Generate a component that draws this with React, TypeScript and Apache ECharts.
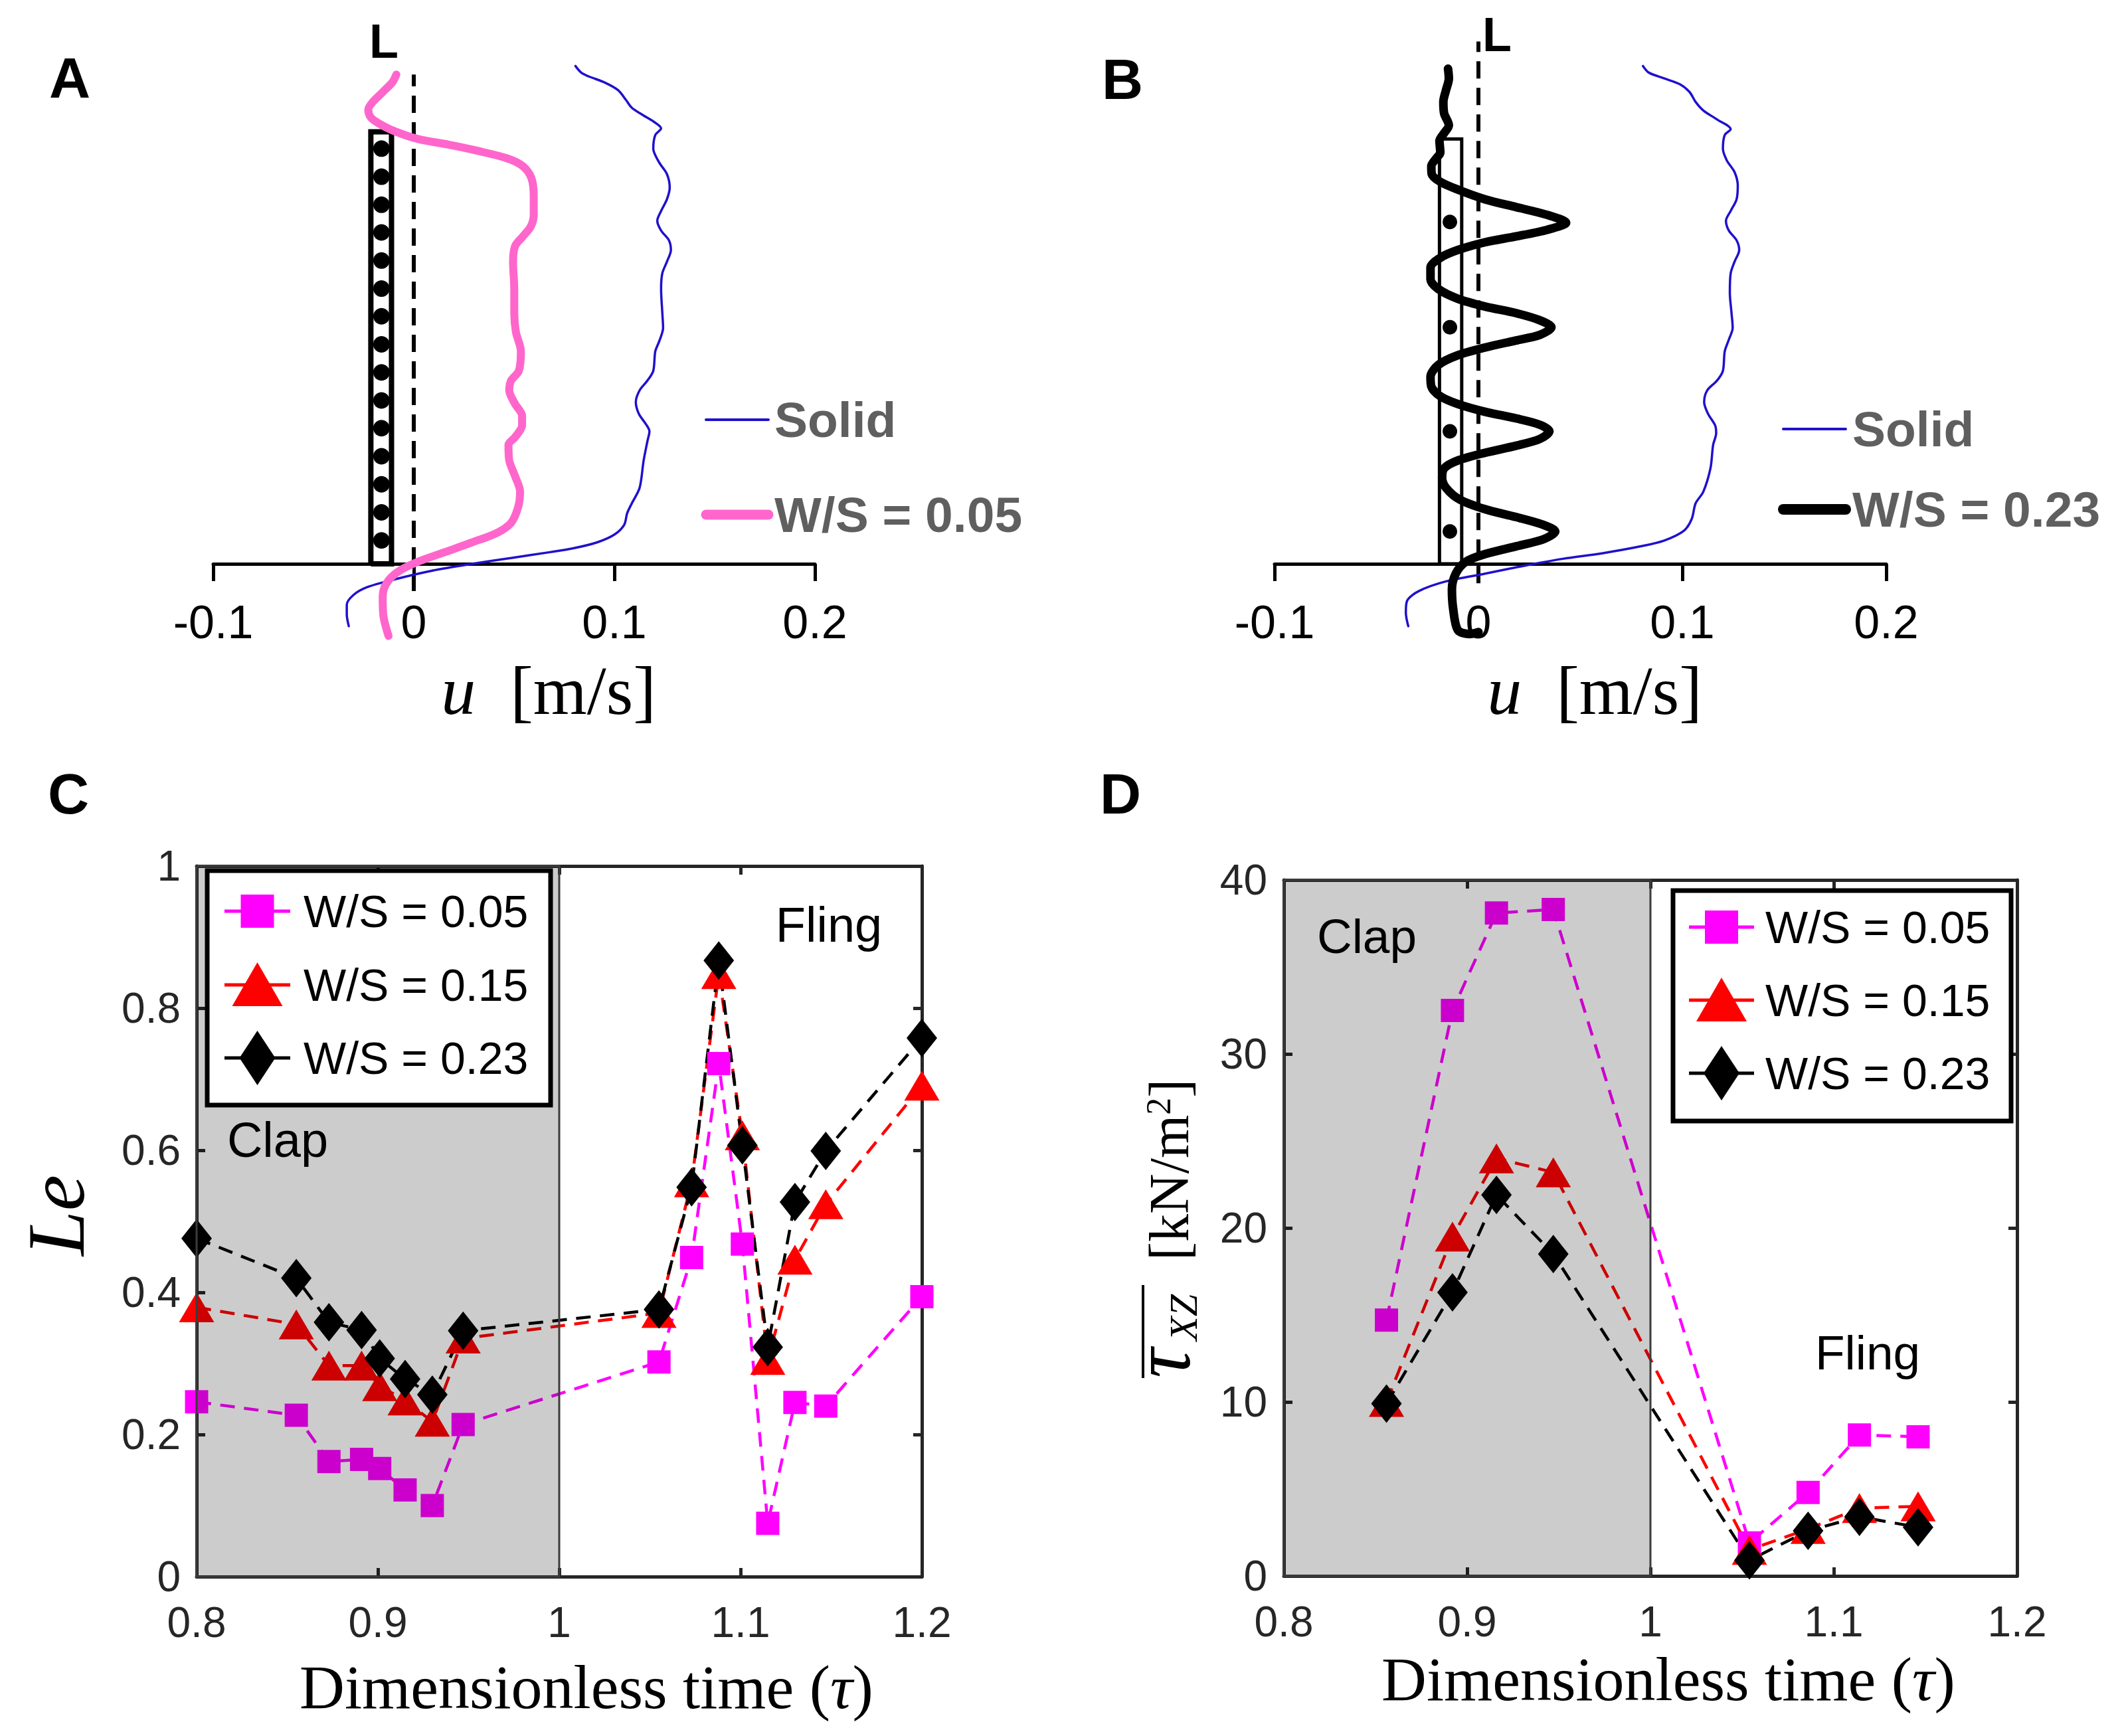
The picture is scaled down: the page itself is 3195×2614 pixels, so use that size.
import React, { useEffect, useRef } from 'react';
import * as echarts from 'echarts';

const W = 3195;
const H = 2614;
const SANS = '"Liberation Sans", Arial, Helvetica, sans-serif';
const SERIF = '"Liberation Serif", "Times New Roman", Times, serif';

// ---------- Panel A: velocity profiles, u [m/s] vs height (arbitrary units) ----------
const uTicks = [-0.1, 0, 0.1, 0.2];
const solidA: [number, number][] = [
  [0.0806, 12.77], [0.0835, 12.6], [0.0874, 12.5], [0.0951, 12.35], [0.1019, 12.15], [0.1058, 11.9],
  [0.1087, 11.7], [0.1146, 11.5], [0.1194, 11.35], [0.1233, 11.17], [0.1204, 11.0], [0.1194, 10.65],
  [0.1223, 10.3], [0.1262, 10.0], [0.1276, 9.65], [0.1262, 9.35], [0.1233, 9.05], [0.1214, 8.8],
  [0.1233, 8.55], [0.1272, 8.3], [0.1282, 8.05], [0.1262, 7.75], [0.1239, 7.45], [0.1233, 7.05],
  [0.1239, 6.45], [0.1243, 6.05], [0.1223, 5.7], [0.1204, 5.45], [0.1194, 4.95], [0.1165, 4.7],
  [0.1126, 4.45], [0.1107, 4.15], [0.1122, 3.85], [0.1155, 3.6], [0.1175, 3.4], [0.1165, 3.15],
  [0.1146, 2.65], [0.1126, 1.95], [0.1087, 1.55], [0.1064, 1.3], [0.1049, 1.0], [0.1, 0.75],
  [0.0913, 0.55], [0.0796, 0.4], [0.068, 0.3], [0.0485, 0.15], [0.0291, 0.0], [0.0097, -0.17],
  [-0.0097, -0.4], [-0.0233, -0.6], [-0.0301, -0.8], [-0.0334, -1.05], [-0.0334, -1.3], [-0.0324, -1.6],
];
const pinkA: [number, number][] = [
  [-0.0087, 12.55], [-0.0107, 12.35], [-0.0155, 12.1], [-0.0204, 11.85], [-0.0227, 11.65], [-0.0214, 11.45],
  [-0.0175, 11.3], [-0.0097, 11.1], [0.0019, 10.9], [0.0175, 10.75], [0.033, 10.58], [0.0466, 10.4],
  [0.0544, 10.2], [0.0586, 9.9], [0.0598, 9.45], [0.0598, 8.95], [0.0583, 8.65], [0.0544, 8.4],
  [0.0505, 8.15], [0.0495, 7.75], [0.0501, 7.05], [0.0501, 6.45], [0.0509, 5.95], [0.0534, 5.45],
  [0.0524, 4.95], [0.0485, 4.7], [0.0476, 4.45], [0.0505, 4.1], [0.054, 3.8], [0.054, 3.55],
  [0.0505, 3.25], [0.0472, 3.05], [0.0476, 2.65], [0.0505, 2.25], [0.053, 1.85], [0.052, 1.45],
  [0.0485, 1.05], [0.0417, 0.8], [0.0291, 0.55], [0.0155, 0.3], [0.0019, 0.05], [-0.0078, -0.2],
  [-0.0136, -0.5], [-0.0155, -0.85], [-0.0151, -1.35], [-0.0126, -1.85],
];
const plateA = [-0.0214, -0.0111, 11.08]; // left u, right u, top height
const dotsAu = -0.0161;
const dotsAh = [10.65, 9.93, 9.21, 8.5, 7.78, 7.06, 6.35, 5.63, 4.91, 4.19, 3.48, 2.76, 2.04, 1.32, 0.6];
const zeroLineA = [-0.7, 12.55];

// ---------- Panel B ----------
const solidB: [number, number][] = [
  [0.0807, 12.77], [0.0836, 12.6], [0.0912, 12.45], [0.0989, 12.3], [0.1036, 12.1], [0.1065, 11.85],
  [0.1103, 11.63], [0.117, 11.4], [0.1237, 11.15], [0.1208, 11.0], [0.1199, 10.65], [0.1218, 10.35],
  [0.1256, 10.05], [0.1272, 9.7], [0.1266, 9.35], [0.1237, 9.05], [0.1214, 8.8], [0.1228, 8.55],
  [0.1266, 8.3], [0.1279, 8.05], [0.1256, 7.75], [0.1237, 7.45], [0.1233, 6.95], [0.1241, 6.45],
  [0.1247, 6.05], [0.1228, 5.75], [0.1208, 5.45], [0.1199, 4.95], [0.117, 4.7], [0.1122, 4.45],
  [0.1107, 4.15], [0.1126, 3.85], [0.1161, 3.55], [0.1166, 3.35], [0.1151, 3.05], [0.1138, 2.45],
  [0.1103, 1.85], [0.1065, 1.55], [0.1046, 1.15], [0.1008, 0.85], [0.0912, 0.6], [0.0797, 0.45],
  [0.0606, 0.27], [0.0415, 0.13], [0.0224, -0.05], [0.0033, -0.25], [-0.0159, -0.45], [-0.0293, -0.7],
  [-0.035, -0.95], [-0.0356, -1.25], [-0.0344, -1.6],
];
const blackB: [number, number][] = [
  [-0.0149, 12.7], [-0.0145, 12.45], [-0.0159, 12.15], [-0.0172, 11.85], [-0.0168, 11.55], [-0.0145, 11.25],
  [-0.0168, 11.05], [-0.0191, 10.85], [-0.0187, 10.55], [-0.0207, 10.4], [-0.0231, 10.2], [-0.0229, 10.0],
  [-0.0187, 9.8], [-0.0101, 9.6], [0.0033, 9.35], [0.0185, 9.15], [0.0338, 8.95], [0.043, 8.75],
  [0.0338, 8.57], [0.0185, 8.4], [0.0033, 8.25], [-0.0101, 8.05], [-0.0187, 7.85], [-0.0235, 7.6],
  [-0.0235, 7.3], [-0.0197, 7.05], [-0.0101, 6.8], [0.0033, 6.6], [0.0185, 6.43], [0.03, 6.25],
  [0.0358, 6.07], [0.03, 5.87], [0.0185, 5.73], [0.0033, 5.55], [-0.0101, 5.35], [-0.0197, 5.1],
  [-0.0235, 4.8], [-0.0231, 4.55], [-0.0187, 4.3], [-0.0101, 4.1], [0.0033, 3.9], [0.0185, 3.73],
  [0.03, 3.57], [0.0348, 3.4], [0.03, 3.2], [0.0185, 3.03], [0.0033, 2.85], [-0.0101, 2.65],
  [-0.0168, 2.45], [-0.0178, 2.2], [-0.0159, 1.95], [-0.0092, 1.65], [0.0033, 1.4], [0.0185, 1.2],
  [0.0319, 1.0], [0.0377, 0.83], [0.0319, 0.63], [0.0185, 0.45], [0.0033, 0.25], [-0.0063, 0.05],
  [-0.0111, -0.25], [-0.013, -0.65], [-0.0124, -1.15], [-0.0101, -1.7], [-0.0044, -1.8], [0.0, -1.75],
];
const plateB = [-0.0191, -0.0082, 10.9];
const dotsBu = -0.014;
const dotsBh = [8.77, 6.07, 3.4, 0.83];
const zeroLineB = [-0.5, 13.4];

const legendNamesAB = ['Solid', 'W/S = 0.05', 'W/S = 0.23'];

// ---------- Panel C: Le vs dimensionless time ----------
const seriesNames = ['W/S = 0.05', 'W/S = 0.15', 'W/S = 0.23'];
const tauC = [0.8, 0.855, 0.873, 0.891, 0.901, 0.915, 0.93, 0.947, 1.055, 1.073, 1.088, 1.101, 1.115, 1.13, 1.147, 1.2];
const leC005 = [0.246, 0.227, 0.162, 0.165, 0.152, 0.122, 0.1, 0.214, 0.302, 0.449, 0.722, 0.468, 0.075, 0.245, 0.24, 0.394];
const leC015 = [0.379, 0.355, 0.297, 0.297, 0.268, 0.248, 0.218, 0.335, 0.371, 0.555, 0.848, 0.621, 0.305, 0.446, 0.524, 0.691];
const leC023 = [0.476, 0.42, 0.358, 0.347, 0.307, 0.278, 0.256, 0.346, 0.376, 0.548, 0.867, 0.607, 0.323, 0.527, 0.599, 0.758];

// ---------- Panel D: mean shear stress vs dimensionless time ----------
const tauD = [0.856, 0.892, 0.916, 0.947, 1.054, 1.086, 1.114, 1.146];
const tauXZ005 = [14.7, 32.5, 38.1, 38.3, 1.9, 4.8, 8.1, 8.0];
const tauXZ015 = [10.0, 19.5, 24.0, 23.2, 1.5, 2.7, 3.9, 4.0];
const tauXZ023 = [9.9, 16.3, 21.9, 18.5, 0.9, 2.6, 3.4, 2.8];

const clapRange = [0.8, 1.0];
const timeTicks = [0.8, 1.2, 0.1];
const leTicks = [0, 1, 0.2];
const stressTicks = [0, 40, 10];
const heightRange = [0, 14];

const colorsCD = ['#FF00FF', '#FF0000', '#000000'];
const symbolsCD = ['rect', 'triangle', 'diamond'];
const symbolSizesCD: [number, number][] = [[35, 35], [53, 45], [46, 58]];

const FRAME = '#262626';

function abXAxis(gridIndex: number) {
  return {
    type: 'value', gridIndex, min: uTicks[0], max: uTicks[uTicks.length - 1], interval: 0.1,
    axisLine: { show: true, onZero: false, lineStyle: { color: '#000', width: 5 } },
    axisTick: { show: true, inside: false, length: 26, lineStyle: { color: '#000', width: 5 } },
    axisLabel: { show: true, margin: 53, fontSize: 70, color: '#000', fontFamily: SANS },
    splitLine: { show: false },
  };
}
function abYAxis(gridIndex: number) {
  return { type: 'value', gridIndex, min: heightRange[0], max: heightRange[1], show: false, splitLine: { show: false } };
}
function frameAxis(kind: 'x' | 'y', gridIndex: number, position: string, ticks: number[], labels: boolean, margin: number) {
  return {
    type: 'value', gridIndex, position, min: ticks[0], max: ticks[1], interval: ticks[2],
    axisLine: { show: true, onZero: false, lineStyle: { color: FRAME, width: 5 } },
    axisTick: { show: true, inside: true, length: 13, lineStyle: { color: FRAME, width: 5 } },
    axisLabel: { show: labels, margin, fontSize: 64, color: FRAME, fontFamily: SANS },
    splitLine: { show: false },
  };
}

function profileSeries(data: [number, number][], gi: number, color: string, width: number, z: number) {
  return {
    type: 'line', xAxisIndex: gi, yAxisIndex: gi, data, symbol: 'none', smooth: 0.3, silent: true, z, clip: false,
    lineStyle: { color, width, cap: 'round', join: 'round' }, emphasis: { disabled: true },
  };
}
function plateSeries(p: number[], gi: number, width: number) {
  const [l, r, top] = p;
  return {
    type: 'line', xAxisIndex: gi, yAxisIndex: gi, symbol: 'none', silent: true, z: 2, clip: false,
    data: [[l, 0], [r, 0], [r, top], [l, top], [l, 0]],
    lineStyle: { color: '#000', width, join: 'miter' }, emphasis: { disabled: true },
  };
}
function zeroLineSeries(range: number[], gi: number) {
  return {
    type: 'line', xAxisIndex: gi, yAxisIndex: gi, symbol: 'none', silent: true, z: 2, clip: false,
    data: [[0, range[0]], [0, range[1]]],
    lineStyle: { color: '#000', width: 6, type: [26, 14] }, emphasis: { disabled: true },
  };
}
function dotSeries(u: number, hs: number[], gi: number, size: number) {
  return {
    type: 'scatter', xAxisIndex: gi, yAxisIndex: gi, silent: true, z: 2, clip: false,
    data: hs.map((h) => [u, h]), symbol: 'circle', symbolSize: size,
    itemStyle: { color: '#000', opacity: 1 }, emphasis: { disabled: true },
  };
}
function cdSeries(tau: number[], vals: number[][], gi: number) {
  return vals.map((v, i) => ({
    type: 'line', name: seriesNames[i], xAxisIndex: gi, yAxisIndex: gi,
    data: tau.map((t, k) => [t, v[k]]), symbol: symbolsCD[i], symbolSize: symbolSizesCD[i],
    showSymbol: true, silent: true, z: 2,
    itemStyle: { color: colorsCD[i], borderWidth: 0 },
    lineStyle: { color: colorsCD[i], width: 4.5, type: [22, 14] },
    emphasis: { disabled: true },
  }));
}
function clapOverlay(gi: number) {
  return {
    type: 'line', xAxisIndex: gi, yAxisIndex: gi, data: [[clapRange[0], 0]], symbol: 'none', silent: true,
    lineStyle: { opacity: 0 }, z: 5,
    markArea: {
      silent: true, z: 5, label: { show: false },
      itemStyle: { color: 'rgba(0,0,0,0.2)', borderColor: '#3c3c3c', borderWidth: 3 },
      data: [[{ xAxis: clapRange[0] }, { xAxis: clapRange[1] }]],
    },
  };
}

function txt(x: number, y: number, text: string, font: string, extra: any = {}) {
  return {
    type: 'text', x, y, z: 100, silent: true,
    style: { text, font, fill: '#000', align: 'center', verticalAlign: 'middle', ...extra },
  };
}
function marker(sym: string, cx: number, cy: number, color: string) {
  if (sym === 'rect') {
    return { type: 'rect', z: 101, shape: { x: cx - 25, y: cy - 25, width: 50, height: 50 }, style: { fill: color } };
  }
  if (sym === 'triangle') {
    return { type: 'polygon', z: 101, shape: { points: [[cx, cy - 34], [cx + 38, cy + 32], [cx - 38, cy + 32]] }, style: { fill: color } };
  }
  return { type: 'polygon', z: 101, shape: { points: [[cx, cy - 41], [cx + 27, cy], [cx, cy + 41], [cx - 27, cy]] }, style: { fill: color } };
}
function legendCD(box: number[], rowYs: number[], lineX: number[], textX: number) {
  const els: any[] = [
    { type: 'rect', z: 100, shape: { x: box[0], y: box[1], width: box[2], height: box[3] }, style: { fill: '#fff', stroke: '#000', lineWidth: 7 } },
  ];
  seriesNames.forEach((name, i) => {
    const y = rowYs[i];
    els.push({ type: 'line', z: 101, shape: { x1: lineX[0], y1: y, x2: lineX[1], y2: y }, style: { stroke: colorsCD[i], lineWidth: 5 } });
    els.push(marker(symbolsCD[i], (lineX[0] + lineX[1]) / 2, y, colorsCD[i]));
    els.push(txt(textX, y, name, `68px ${SANS}`, { align: 'left' }));
  });
  return els;
}
function legendAB(x1: number, x2: number, textX: number, rows: { y: number; name: string; color: string; width: number }[]) {
  const els: any[] = [];
  rows.forEach((r) => {
    els.push({ type: 'line', z: 100, shape: { x1, y1: r.y, x2, y2: r.y }, style: { stroke: r.color, lineWidth: r.width, lineCap: 'round' } });
    els.push(txt(textX, r.y, r.name, `bold 75px ${SANS}`, { align: 'left', fill: '#5f5f5f' }));
  });
  return els;
}
function uName(cx: number, cy: number) {
  return {
    type: 'text', x: cx, y: cy, z: 100, silent: true,
    style: {
      text: '{i|u}{n|  [m/s]}', align: 'center', verticalAlign: 'middle', fill: '#000',
      rich: {
        i: { fontFamily: SERIF, fontStyle: 'italic', fontSize: 104, fill: '#000' },
        n: { fontFamily: SERIF, fontSize: 104, fill: '#000' },
      },
    },
  };
}
function timeName(cx: number, cy: number) {
  return {
    type: 'text', x: cx, y: cy, z: 100, silent: true,
    style: {
      text: '{n|Dimensionless time (}{i|τ}{n|)}', align: 'center', verticalAlign: 'middle', fill: '#000',
      rich: {
        i: { fontFamily: SERIF, fontStyle: 'italic', fontSize: 94, fill: '#000' },
        n: { fontFamily: SERIF, fontSize: 94, fill: '#000' },
      },
    },
  };
}

export default function App() {
  const ref = useRef<HTMLDivElement>(null);
  useEffect(() => {
    if (!ref.current) return;
    const chart = echarts.init(ref.current, null, { renderer: 'svg', width: W, height: H });

    const graphic: any[] = [
      txt(105, 117, 'A', `bold 86px ${SANS}`),
      txt(1690, 119, 'B', `bold 86px ${SANS}`),
      txt(103, 1195, 'C', `bold 86px ${SANS}`),
      txt(1687, 1195, 'D', `bold 86px ${SANS}`),
      txt(578, 62, 'L', `bold 72px ${SANS}`),
      txt(2254, 52, 'L', `bold 72px ${SANS}`),
      uName(826, 1039),
      uName(2401, 1039),
      ...legendAB(1063, 1157, 1166, [
        { y: 632, name: legendNamesAB[0], color: '#2010CC', width: 4 },
        { y: 775, name: legendNamesAB[1], color: '#FF66CC', width: 15 },
      ]),
      ...legendAB(2685, 2779, 2789, [
        { y: 646, name: legendNamesAB[0], color: '#2010CC', width: 4 },
        { y: 767, name: legendNamesAB[2], color: '#000000', width: 16 },
      ]),
      txt(418, 1716, 'Clap', `74px ${SANS}`),
      txt(1248, 1392, 'Fling', `74px ${SANS}`),
      txt(2058, 1409, 'Clap', `73px ${SANS}`),
      txt(2812, 2036, 'Fling', `73px ${SANS}`),
      ...legendCD([312, 1311, 517, 353], [1372, 1483, 1593], [338, 437], 457),
      ...legendCD([2519, 1341, 509, 347], [1396, 1506, 1616], [2543, 2641], 2658),
      {
        type: 'text', x: 84, y: 1830, rotation: Math.PI / 2, z: 100, silent: true,
        style: { text: 'Le', font: `italic 122px ${SERIF}`, fill: '#000', align: 'center', verticalAlign: 'middle' },
      },
      timeName(883, 2540),
      timeName(2512, 2528),
      {
        type: 'group', x: 1789, y: 2075, rotation: Math.PI / 2, z: 100, silent: true,
        children: [
          { type: 'text', x: 0, y: -40, style: { text: 'τ', font: `italic 124px ${SERIF}`, fill: '#000', align: 'left', verticalAlign: 'middle' } },
          { type: 'text', x: 56, y: -7, style: { text: 'XZ', font: `italic 60px ${SERIF}`, fill: '#000', align: 'left', verticalAlign: 'middle' } },
          { type: 'line', shape: { x1: 0, y1: -68, x2: 140, y2: -68 }, style: { stroke: '#000', lineWidth: 4 } },
          {
            type: 'text', x: 177, y: -29,
            style: {
              text: '{n|[kN/m}{p|2}{n|]}', align: 'left', verticalAlign: 'middle', fill: '#000',
              rich: {
                n: { fontFamily: SERIF, fontSize: 84, fill: '#000', verticalAlign: 'bottom' },
                p: { fontFamily: SERIF, fontSize: 52, fill: '#000', verticalAlign: 'top' },
              },
            },
          },
        ],
      },
    ];

    const option: any = {
      animation: false,
      backgroundColor: '#ffffff',
      grid: [
        { left: 321, top: 27.2, width: 906, height: 821.8, outerBoundsMode: 'none' },
        { left: 1919, top: 27.2, width: 921, height: 821.8, outerBoundsMode: 'none' },
        { left: 296, top: 1304, width: 1092, height: 1070, outerBoundsMode: 'none' },
        { left: 1933, top: 1325, width: 1104, height: 1048, outerBoundsMode: 'none' },
      ],
      xAxis: [
        abXAxis(0),
        abXAxis(1),
        frameAxis('x', 2, 'bottom', timeTicks, true, 37),
        frameAxis('x', 3, 'bottom', timeTicks, true, 37),
        frameAxis('x', 2, 'top', timeTicks, false, 8),
        frameAxis('x', 3, 'top', timeTicks, false, 8),
      ],
      yAxis: [
        abYAxis(0),
        abYAxis(1),
        frameAxis('y', 2, 'left', leTicks, true, 24),
        frameAxis('y', 3, 'left', stressTicks, true, 25),
        frameAxis('y', 2, 'right', leTicks, false, 8),
        frameAxis('y', 3, 'right', stressTicks, false, 8),
      ],
      series: [
        plateSeries(plateA, 0, 8),
        dotSeries(dotsAu, dotsAh, 0, 25),
        zeroLineSeries(zeroLineA, 0),
        profileSeries(solidA, 0, '#2010CC', 3.5, 3),
        profileSeries(pinkA, 0, '#FF66CC', 12, 4),
        plateSeries(plateB, 1, 5),
        dotSeries(dotsBu, dotsBh, 1, 22),
        zeroLineSeries(zeroLineB, 1),
        profileSeries(solidB, 1, '#2010CC', 3.5, 3),
        profileSeries(blackB, 1, '#000000', 13, 4),
        ...cdSeries(tauC, [leC005, leC015, leC023], 2),
        clapOverlay(2),
        ...cdSeries(tauD, [tauXZ005, tauXZ015, tauXZ023], 3),
        clapOverlay(3),
      ],
      graphic,
    };
    chart.setOption(option);
    return () => chart.dispose();
  }, []);
  return <div ref={ref} style={{ position: 'absolute', left: 0, top: 0, width: W, height: H }} />;
}
